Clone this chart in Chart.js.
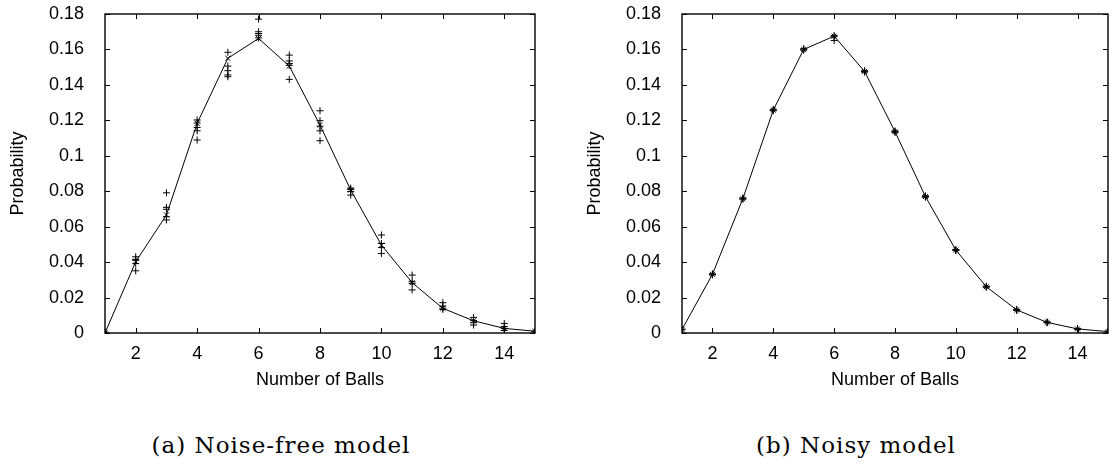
<!DOCTYPE html>
<html>
<head>
<meta charset="utf-8">
<script src="https://cdn.jsdelivr.net/npm/chart.js@4"></script>
<style>
body { margin: 0; background: #fff; width: 1113px; height: 466px; position: relative; overflow: hidden; }
.box { position: absolute; top: 0; height: 400px; }
.cap { position: absolute; top: 432px; font-family: 'DejaVu Serif', serif; font-size: 23px; letter-spacing: 1px; transform: translateX(-50%); white-space: nowrap; color: #000; }
</style>
</head>
<body>
<div class="box" style="left:0;width:560px"><canvas id="c1"></canvas></div>
<div class="box" style="left:577px;width:536px"><canvas id="c2"></canvas></div>
<div class="cap" style="left:281px">(a) Noise-free model</div>
<div class="cap" style="left:856px">(b) Noisy model</div>
<script>
// data
const balls = [1, 2, 3, 4, 5, 6, 7, 8, 9, 10, 11, 12, 13, 14, 15];
const xTicks = [2, 4, 6, 8, 10, 12, 14];
const yTicks = [0, 0.02, 0.04, 0.06, 0.08, 0.1, 0.12, 0.14, 0.16, 0.18];

const noiseFreeMean = [0, 0.0402, 0.0666, 0.1183, 0.155, 0.1662, 0.1506, 0.1173, 0.0807, 0.0496, 0.0284, 0.0139, 0.0069, 0.0026, 0.001];
const noiseFreeSamples = [
  [0, 0.0005],
  [0.043, 0.0416, 0.0393, 0.0351, 0.041],
  [0.0791, 0.0709, 0.0698, 0.0656, 0.0638],
  [0.1202, 0.1185, 0.1141, 0.1089, 0.116],
  [0.1584, 0.1506, 0.148, 0.1456, 0.1446],
  [0.1771, 0.170, 0.169, 0.168, 0.1665],
  [0.1568, 0.1535, 0.1521, 0.1431, 0.151],
  [0.1254, 0.1198, 0.1167, 0.1141, 0.1085],
  [0.0817, 0.0799, 0.0778, 0.081],
  [0.0553, 0.0505, 0.0482, 0.0449],
  [0.0327, 0.0289, 0.0243, 0.028],
  [0.0171, 0.0152, 0.0133, 0.014],
  [0.0088, 0.0058, 0.0045, 0.007],
  [0.0054, 0.0036, 0.0014, 0.0025],
  [0.001, 0.0008]
];

const noisyMean = [0.002, 0.0331, 0.0758, 0.1258, 0.16, 0.1675, 0.1476, 0.1136, 0.077, 0.0468, 0.0261, 0.013, 0.006, 0.0023, 0.0008];
const noisySamples = [
  [0.0018, 0.0022],
  [0.0328, 0.0334, 0.033],
  [0.0755, 0.0762, 0.0758],
  [0.1254, 0.1262, 0.1258],
  [0.1596, 0.1604, 0.1601],
  [0.165, 0.1672, 0.1678],
  [0.1472, 0.148, 0.1476],
  [0.1132, 0.114, 0.1136],
  [0.0766, 0.0774, 0.077],
  [0.0465, 0.0471, 0.0468],
  [0.0258, 0.0264, 0.0261],
  [0.0127, 0.0133, 0.013],
  [0.0058, 0.0062, 0.006],
  [0.0021, 0.0025, 0.0023],
  [0.0006, 0.001]
];

Chart.defaults.color = '#000';
Chart.defaults.font.family = "'Liberation Sans', Arial, sans-serif";
Chart.defaults.font.size = 18;

// gnuplot style frame with inward ticks on all four sides
const gnuFrame = {
  id: 'gnuFrame',
  afterDraw(chart) {
    const { ctx, chartArea: a, scales } = chart;
    const t = 5;
    ctx.save();
    ctx.strokeStyle = '#000';
    ctx.lineWidth = 1;
    ctx.beginPath();
    scales.x.ticks.forEach(tk => {
      const px = Math.round(scales.x.getPixelForValue(tk.value)) + 0.5;
      ctx.moveTo(px, a.bottom); ctx.lineTo(px, a.bottom - t);
      ctx.moveTo(px, a.top); ctx.lineTo(px, a.top + t);
    });
    scales.y.ticks.forEach(tk => {
      const py = Math.round(scales.y.getPixelForValue(tk.value)) + 0.5;
      ctx.moveTo(a.left, py); ctx.lineTo(a.left + t, py);
      ctx.moveTo(a.right, py); ctx.lineTo(a.right - t, py);
    });
    ctx.stroke();
    ctx.lineWidth = 1.4;
    ctx.strokeRect(a.left, a.top, a.right - a.left, a.bottom - a.top);
    ctx.restore();
  }
};

function makeChart(id, mean, samples, padRight) {
  const meanPts = balls.map((b, i) => ({ x: b, y: mean[i] }));
  const samplePts = [];
  samples.forEach((list, i) => list.forEach(v => samplePts.push({ x: balls[i], y: v })));
  return new Chart(document.getElementById(id), {
    type: 'line',
    data: {
      datasets: [{
        data: meanPts,
        borderColor: '#000',
        borderWidth: 1,
        pointStyle: 'crossRot',
        pointRadius: 3.5,
        pointBorderColor: '#000',
        pointBorderWidth: 1,
        tension: 0
      }, {
        data: samplePts,
        showLine: false,
        pointStyle: 'cross',
        pointRadius: 3.5,
        pointBorderColor: '#000',
        pointBorderWidth: 1
      }]
    },
    options: {
      responsive: true,
      maintainAspectRatio: false,
      animation: false,
      layout: { padding: { top: 14, right: padRight, left: 0, bottom: 5 } },
      plugins: { legend: { display: false }, tooltip: { enabled: false } },
      scales: {
        x: {
          type: 'linear',
          min: 1, max: 15,
          grid: { display: false },
          border: { display: false },
          afterBuildTicks: s => { s.ticks = xTicks.map(v => ({ value: v })); },
          afterFit: s => { s.height = 62; s.paddingLeft = 0; s.paddingRight = 0; },
          ticks: { padding: 2, maxRotation: 0, callback: v => String(v) },
          title: { display: true, text: 'Number of Balls', padding: { top: 2 } }
        },
        y: {
          min: 0, max: 0.18,
          grid: { display: false },
          border: { display: false },
          afterBuildTicks: s => { s.ticks = yTicks.map(v => ({ value: v })); },
          afterFit: s => { s.width = 105; s.paddingTop = 0; s.paddingBottom = 0; },
          ticks: { padding: 13, callback: v => String(+v.toFixed(2)) },
          title: { display: true, text: 'Probability', padding: { top: 7 } }
        }
      }
    },
    plugins: [gnuFrame]
  });
}

makeChart('c1', noiseFreeMean, noiseFreeSamples, 25);
makeChart('c2', noisyMean, noisySamples, 2);
</script>
</body>
</html>
